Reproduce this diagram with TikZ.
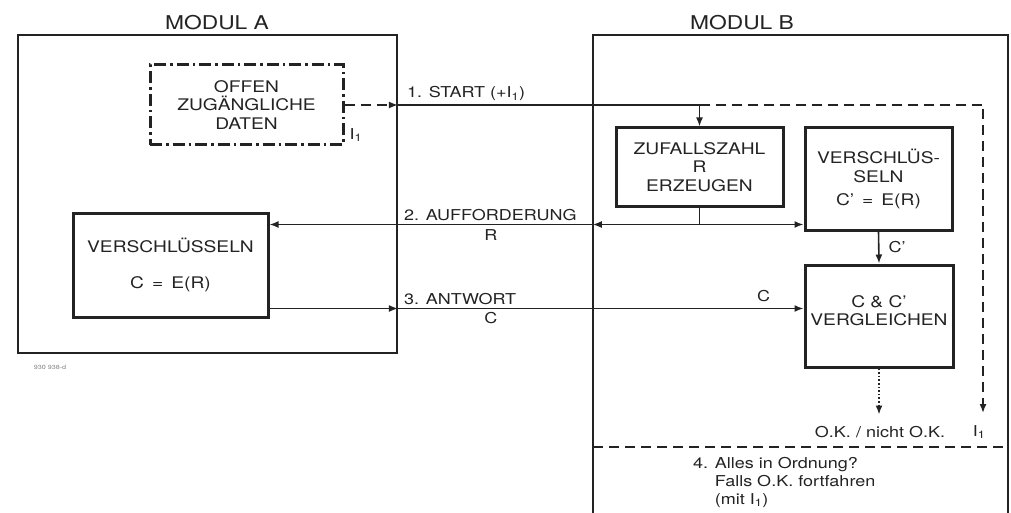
\documentclass[tikz,border=0pt]{standalone}
\usepackage{fontspec}
\setmainfont{TeX Gyre Heros}[FakeStretch=1.2]
\usetikzlibrary{positioning, arrows.meta, calc}
\definecolor{ink}{RGB}{35,35,35}
\tikzset{
  block/.style={
    draw=ink, line width=3pt, align=center, inner sep=0pt,
    font=\fontsize{16}{18.5}\selectfont
  },
  modul/.style={draw=ink, line width=1.8pt},
  wire/.style={draw=ink, line width=1.6pt},
  flow/.style={wire, -{Latex[length=9pt,width=7pt]}},
  idline/.style={dash pattern=on 10pt off 6pt},
  dashdot/.style={dash pattern=on 12pt off 4pt on 2.5pt off 4pt},
  msg/.style={font=\fontsize{15}{18}\selectfont, inner sep=1pt},
  head/.style={font=\fontsize{19}{22}\selectfont},
}
\begin{document}
\begin{tikzpicture}[x=1pt, y=-1pt, text=ink]
  \useasboundingbox (0,0) rectangle (1011,513);
  % Module
  \node[modul, minimum width=379pt, minimum height=318pt] (modA) at (207.5,194) {};
  \node[minimum width=415pt, minimum height=478pt, inner sep=0pt] (modB) at (800.5,274) {};
  \draw[modul] (modB.south west) |- (modB.north east) -- (modB.south east);
  \node[head] (headA) at (217,23) {MODUL A};
  \node[head] (headB) at (742,23) {MODUL B};
  \node[font=\fontsize{6}{7}\selectfont, text=gray] (refnr) at (50,367) {930 938-d};

  % Bloecke
  \node[block, dashdot, minimum width=193pt, minimum height=80pt] (daten) at (246.5,105) {OFFEN\\ZUGÄNGLICHE\\DATEN};
  \node[msg, anchor=north west] (idA) at ($(daten.east)+(4,22)$) {I\textsubscript{1}};
  \node[block, minimum width=167pt, minimum height=78pt] (zufall) at (699.5,167) {ZUFALLSZAHL\\R\\ERZEUGEN};
  \node[block, minimum width=147pt, minimum height=102pt] (versB) at (878.5,179) {VERSCHLÜS-\\SELN\\[5pt]C' \,=\, E(R)};
  \node[block, minimum width=195pt, minimum height=104pt] (versA) at (170.5,265) {VERSCHLÜSSELN\\[18pt]C \,=\, E(R)};
  \node[block, minimum width=148pt, minimum height=102pt] (vergl) at (879,316) {C \& C'\\VERGLEICHEN\\[-8pt]\mbox{}};

  % 1. Start
  \coordinate (inA) at (modA.east |- daten.east);
  \coordinate (tapS) at (zufall.north |- inA);
  \coordinate (idend) at (983,413);
  \draw[flow, idline] (daten.east) -- (inA);
  \draw[wire] (inA) -- (tapS);
  \draw[flow] (tapS) -- (zufall.north);
  \draw[flow, idline] (tapS) -| (idend);
  \node[msg, anchor=south west] (lblS) at ($(inA)+(8,-3)$) {1. START (+I\textsubscript{1})};

  % 2. Aufforderung
  \coordinate (tapR) at ($(zufall.south)+(0,17)$);
  \coordinate (inB) at (modB.west |- tapR);
  \draw[wire] (zufall.south) -- (tapR);
  \draw[flow] (tapR) -- (inB);
  \draw[flow] (inB) -- (versA.east |- inB);
  \draw[flow] (tapR) -- (versB.west |- tapR);
  \node[msg, anchor=south west] (lblR) at ($(modA.east |- inB)+(5,-3)$) {2. AUFFORDERUNG};
  \node[msg, anchor=north] (valR) at ($(modA.east |- inB)+(93,4)$) {R};

  % 3. Antwort
  \coordinate (outA) at ($(versA.south east)+(0,-10)$);
  \coordinate (inA3) at (modA.east |- outA);
  \draw[flow] (outA) -- (inA3);
  \draw[flow] (inA3) -- (vergl.west |- outA);
  \node[msg, anchor=south west] (lblC) at ($(inA3)+(5,-3)$) {3. ANTWORT};
  \node[msg, anchor=north] (valC) at ($(inA3)+(93,3)$) {C};
  \node[msg, anchor=south] (valC2) at ($(vergl.west |- outA)+(-40,-6)$) {C};

  % Vergleich
  \draw[flow] (versB.south) -- (vergl.north) node[midway, right, msg, xshift=8pt] (valCs) {C'};
  \coordinate (okend) at ($(vergl.south)+(0,46)$);
  \draw[flow, dotted] (vergl.south) -- (okend);
  \node[msg] (okLbl) at (880,432) {O.K. / nicht O.K.};
  \node[msg] (idB) at (979,432) {I\textsubscript{1}};

  % 4. Weiter
  \coordinate (sepL) at ($(modB.south west)+(0,-66)$);
  \coordinate (sepR) at ($(modB.south east)+(0,-66)$);
  \draw[wire, idline] (sepL) -- (sepR);
  \node[msg, align=left, anchor=north west] (weiter) at (692,456) {4. Alles in Ordnung?\\\phantom{4. }Falls O.K. fortfahren\\\phantom{4. }(mit I\textsubscript{1})};
\end{tikzpicture}
\end{document}
